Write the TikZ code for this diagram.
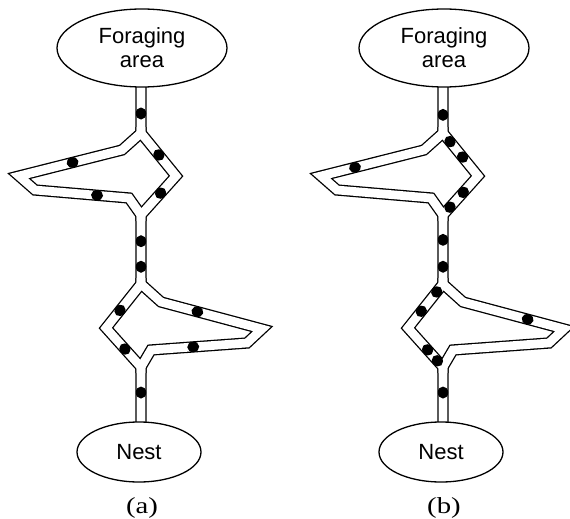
\documentclass[tikz,border=0pt]{standalone}
\usepackage{fontspec}
\setmainfont{Liberation Serif}
\newfontfamily\placefont{Liberation Sans}
\usetikzlibrary{shapes.geometric,backgrounds}

\tikzset{
  place/.style={ellipse, draw, line width=1.3pt, fill=white, inner sep=0pt,
    align=center, font=\placefont\fontsize{22}{24}\selectfont},
  tubeedge/.style={line width=11.3pt, black, line join=miter, miter limit=20},
  tubecore/.style={line width=8.7pt, white, line join=miter, miter limit=20},
  ant/.style={ellipse, fill=black, inner sep=0pt, outer sep=0pt,
    minimum width=12pt, minimum height=10.5pt, sloped},
  caption/.style={anchor=base, font=\fontsize{23}{26}\selectfont},
}
% one ant on the straight stretch from #1 to #2, at fraction #3
\newcommand\antsat[3]{\path (#1) -- node[ant,pos=#3]{} (#2);}

\begin{document}
\begin{tikzpicture}[x=1pt,y=-1pt]
\useasboundingbox (0,0) rectangle (570,519);

\foreach \p/\dx in {a/0,b/302}{
  \begin{scope}[xshift=\dx pt]
    \node[place, minimum width=170pt, minimum height=78pt] (\p-fa) at (142,48) {Foraging\\area};
    \node[place, minimum width=124pt, minimum height=60pt] (\p-nest) at (139,452) {Nest};
    \node[caption] (\p-cap) at (142,513) {\scalebox{1.25}[1]{(\p)}};
    % upper loop: bulges to the left
    \coordinate (\p-j1a) at (141,127);
    \coordinate (\p-j1)  at (141,133);
    \coordinate (\p-k1)  at (122,150);
    \coordinate (\p-tip) at (19,176);
    \coordinate (\p-k2)  at (35,190);
    \coordinate (\p-k3)  at (129,198);
    \coordinate (\p-r1)  at (176,176);
    \coordinate (\p-j2)  at (141,215);
    \coordinate (\p-j2b) at (141,221);
    % lower loop: bulges to the right
    \coordinate (\p-j3a) at (141,278);
    \coordinate (\p-j3)  at (141,284);
    \coordinate (\p-m1)  at (161,302);
    \coordinate (\p-tip2) at (262,329);
    \coordinate (\p-m2)  at (247,343);
    \coordinate (\p-m3)  at (151,350);
    \coordinate (\p-l1)  at (106,328);
    \coordinate (\p-j4)  at (141,367);
    \coordinate (\p-j4b) at (141,373);
    \coordinate (\p-top) at (\p-j1 |- \p-fa.south);
    \coordinate (\p-bot) at (\p-j4 |- \p-nest.north);
    \begin{scope}[on background layer]
      \foreach \s in {tubeedge,tubecore}{
        \draw[\s] (\p-j1 |- \p-fa.center) -- (\p-j1) -- (\p-k1) -- (\p-tip) -- (\p-k2)
          -- (\p-k3) -- (\p-j2) -- (\p-j3) -- (\p-l1) -- (\p-j4) -- (\p-j4 |- \p-nest.center);
        \draw[\s] (\p-j1a) -- (\p-j1) -- (\p-r1) -- (\p-j2) -- (\p-j2b);
        \draw[\s] (\p-j3a) -- (\p-j3) -- (\p-m1) -- (\p-tip2) -- (\p-m2) -- (\p-m3)
          -- (\p-j4) -- (\p-j4b);
      }
    \end{scope}
  \end{scope}
}

% ants, panel (a)
\antsat{a-top}{a-j1}{.57}
\antsat{a-k1}{a-tip}{.48}
\antsat{a-k2}{a-k3}{.66}
\antsat{a-j1}{a-r1}{.51}
\antsat{a-r1}{a-j2}{.44}
\antsat{a-j2}{a-j3}{.38}
\antsat{a-j2}{a-j3}{.75}
\antsat{a-j3}{a-l1}{.6}
\antsat{a-l1}{a-j4}{.54}
\antsat{a-m1}{a-tip2}{.36}
\antsat{a-m2}{a-m3}{.56}
\antsat{a-j4}{a-bot}{.47}

% ants, panel (b)
\antsat{b-top}{b-j1}{.6}
\antsat{b-k1}{b-tip}{.67}
\antsat{b-j1}{b-r1}{.2}
\antsat{b-j1}{b-r1}{.56}
\antsat{b-r1}{b-j2}{.42}
\antsat{b-r1}{b-j2}{.8}
\antsat{b-j2}{b-j3}{.36}
\antsat{b-j2}{b-j3}{.75}
\antsat{b-j3}{b-l1}{.18}
\antsat{b-j3}{b-l1}{.62}
\antsat{b-l1}{b-j4}{.56}
\antsat{b-l1}{b-j4}{.84}
\antsat{b-m1}{b-tip2}{.64}
\antsat{b-j4}{b-bot}{.47}
\end{tikzpicture}
\end{document}
